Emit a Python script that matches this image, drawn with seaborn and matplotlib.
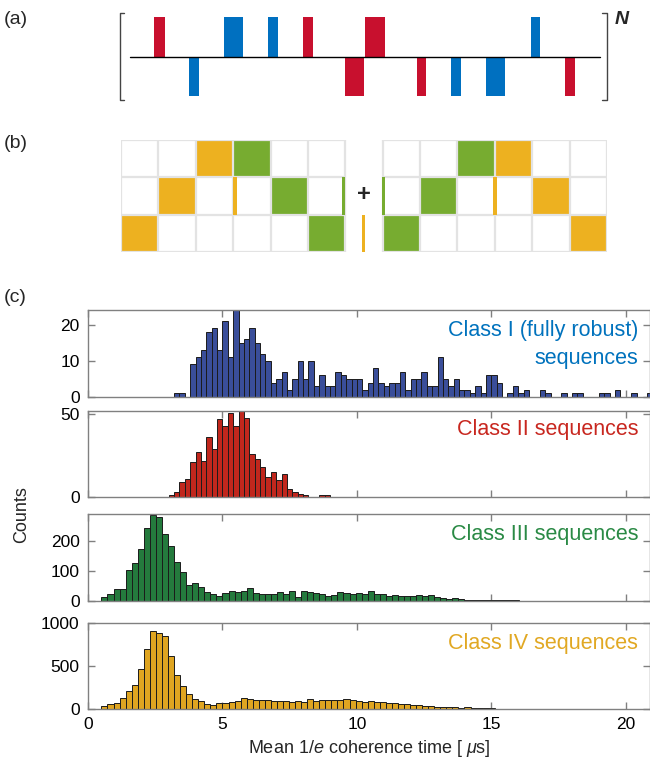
import numpy as np
import pandas as pd
import matplotlib
matplotlib.use('Agg')
import matplotlib.pyplot as plt
import seaborn as sns

# ---------------- data ----------------
# (a) pulse sequence (time units along the baseline)
pulse_t0 = [24, 59, 94, 138, 173, 214.5, 235, 286.5, 321, 356, 401, 435]
pulse_dur = [11, 10, 19, 10, 10, 19.5, 20, 9.5, 9.5, 19, 9, 10]
pulse_sign = [1, -1, 1, 1, 1, -1, 1, -1, -1, -1, 1, -1]
pulse_axis = ['r', 'b', 'b', 'b', 'r', 'r', 'r', 'r', 'b', 'b', 'b', 'r']

# (b) frame cells: (row, col, colour)
cell_row = [0, 0, 1, 1, 2, 2, 0, 0, 1, 1, 2, 2]
cell_col = [2, 3, 1, 4, 0, 5, 9, 10, 8, 11, 7, 12]
cell_kind = ['o', 'g', 'o', 'g', 'o', 'g', 'g', 'o', 'g', 'o', 'g', 'o']
strip_row = [1, 1, 2, 1, 1]
strip_col = [3.0, 5.9, 6.45, 6.98, 9.96]
strip_kind = ['o', 'g', 'o', 'g', 'o']

# (c) histograms
class1_start, class1_width = 3.2, 0.2
class1_counts = [1, 1, 0, 9, 11, 13, 18, 19, 13, 21, 11, 24, 15, 16, 19, 15, 12, 10,
                 4, 5, 7, 2, 5, 10, 5, 10, 3, 6, 3, 3, 7, 6, 5, 5, 5, 2, 4, 8, 4,
                 3, 4, 4, 7, 2, 5, 5, 7, 3, 3, 11, 5, 3, 5, 2, 2, 1, 3, 1, 6, 6, 4,
                 0, 1, 3, 1, 2, 0, 0, 2, 1, 0, 0, 1, 0, 1, 1, 0, 0, 0, 1, 1, 0, 2,
                 0, 0, 1, 0, 0, 1]
class2_start, class2_width = 3.0, 0.2
class2_counts = [1, 3, 9, 11, 21, 27, 22, 36, 29, 47, 43, 51, 43, 52, 48, 26, 23, 18,
                 12, 15, 10, 14, 5, 3, 2, 1, 0, 0, 1, 1]
class3_start, class3_width = 0.5, 0.225
class3_counts = [14, 22, 40, 39, 102, 126, 174, 243, 287, 280, 224, 183, 129, 96, 53,
                 59, 48, 29, 22, 17, 26, 32, 29, 33, 42, 28, 23, 23, 23, 29, 24, 33,
                 14, 33, 29, 27, 23, 17, 20, 30, 26, 22, 26, 24, 33, 22, 22, 18, 19,
                 17, 18, 17, 19, 16, 20, 12, 9, 8, 11, 6, 4, 3, 3, 3, 2, 2, 2, 2, 2,
                 1, 1, 1]
class4_start, class4_width = 0.5, 0.225
class4_counts = [31, 62, 74, 132, 209, 283, 465, 698, 903, 888, 853, 616, 399, 271,
                 171, 116, 93, 62, 50, 66, 74, 81, 97, 124, 120, 109, 109, 109, 89,
                 97, 97, 78, 89, 81, 116, 89, 109, 105, 109, 105, 112, 109, 97, 81,
                 97, 85, 81, 74, 70, 62, 58, 50, 46, 39, 35, 27, 23, 19, 19, 15, 23,
                 15, 12, 12, 8, 5, 4, 3, 3, 2, 2, 2, 1, 1]

class_labels = ['Class I (fully robust)\nsequences', 'Class II sequences',
                'Class III sequences', 'Class IV sequences']
y_ticks = [[0, 10, 20], [0, 50], [0, 100, 200], [0, 500, 1000]]
y_lims = [24, 52, 290, 1000]
x_ticks = [0, 5, 10, 15, 20]

# ---------------- style ----------------
sns.set_theme(style='white')
plt.rcParams['font.family'] = ['Liberation Sans', 'DejaVu Sans']
plt.rcParams['mathtext.fontset'] = 'custom'
plt.rcParams['mathtext.rm'] = 'Liberation Sans'
plt.rcParams['mathtext.it'] = 'Liberation Sans:italic'

RED = '#C8102E'
BLUE = '#0070C0'
ORANGE = '#EDB120'
GREEN = '#77AC30'
W, H = 650, 772

fig = plt.figure(figsize=(W / 100, H / 100), dpi=100)


def px_axes(l, t, r, b):
    return fig.add_axes([l / W, 1 - b / H, (r - l) / W, (b - t) / H])


# ---------------- (a) ----------------
axa = px_axes(119, 13, 609, 100)
axa.set_xlim(-11, 479)
axa.set_ylim(-1.11, 1.11)
axa.axis('off')
pc = {'r': RED, 'b': BLUE}
axa.bar(pulse_t0, pulse_sign, width=pulse_dur, align='edge',
        color=[pc[k] for k in pulse_axis], linewidth=0, zorder=2)
axa.plot([0, 470], [0, 0], color='black', lw=1.0, zorder=3)
bk = '#444444'
axa.plot([-6, -10.5, -10.5, -6], [1.1, 1.1, -1.1, -1.1], color=bk, lw=1.0, clip_on=False)
axa.plot([472, 476.5, 476.5, 472], [1.1, 1.1, -1.1, -1.1], color=bk, lw=1.0, clip_on=False)
fig.text(622 / W, 1 - 20 / H, 'N', fontsize=14, style='italic', weight='bold',
         ha='center', va='center')

# ---------------- (b) ----------------
axb = px_axes(121, 140, 607, 252)
axb.set_xlim(0, 13)
axb.set_ylim(3, 0)
axb.axis('off')
kc = {'o': ORANGE, 'g': GREEN}
axb.bar(cell_col, [1] * len(cell_col), bottom=cell_row, width=1, align='edge',
        color=[kc[k] for k in cell_kind], linewidth=0, zorder=1)
axb.bar(strip_col, [1] * len(strip_col), bottom=strip_row, width=0.09, align='edge',
        color=[kc[k] for k in strip_kind], linewidth=0, zorder=3)
gcol = '#E3E3E3'
for x0 in (0, 7):
    for c in range(7):
        axb.plot([x0 + c, x0 + c], [0, 3], color=gcol, lw=1.6, zorder=2)
    for r in range(4):
        axb.plot([x0, x0 + 6], [r, r], color=gcol, lw=1.6, zorder=2)
axb.text(6.5, 1.45, '+', fontsize=17, ha='center', va='center', weight='bold')

for lab, y in (('(a)', 20), ('(b)', 143), ('(c)', 297)):
    fig.text(4 / W, 1 - y / H, lab, fontsize=14, ha='left', va='center')

# ---------------- (c) ----------------
boxes = [(310, 397), (411, 497), (514, 601), (623, 709)]
fills = ['#3A4E9A', '#C1271D', '#247A3D', '#DFA521']
tcols = ['#0072BD', '#C8271F', '#2A8A45', '#E1A823']
text_y = [0.60, 0.79, 0.77, 0.76]
data = [(class1_start, class1_width, class1_counts),
        (class2_start, class2_width, class2_counts),
        (class3_start, class3_width, class3_counts),
        (class4_start, class4_width, class4_counts)]

for i, ((t, b), (start, width, counts)) in enumerate(zip(boxes, data)):
    ax = px_axes(88, t, 650, b)
    counts = [float(v) for v in counts]
    edges = [start + width * j for j in range(len(counts) + 1)]
    centers = [e + width / 2 for e in edges[:-1]]
    df = pd.DataFrame({'t': centers, 'n': counts})
    sns.histplot(data=df, x='t', weights='n', bins=edges, ax=ax, color=fills[i],
                 edgecolor='#1b1b1b', linewidth=0.7, alpha=1)
    ax.set_xlim(0, 20.9)
    ax.set_ylim(0, y_lims[i])
    ax.set_yticks(y_ticks[i])
    ax.set_xticks(x_ticks)
    ax.set_ylabel('')
    ax.set_xlabel('')
    if i < 3:
        ax.set_xticklabels([])
    for s in ax.spines.values():
        s.set_visible(True)
        s.set_color('#808080')
        s.set_linewidth(1.0)
    ax.tick_params(direction='in', length=5, width=1, color='#808080',
                   top=True, right=True, bottom=True, left=True,
                   labelsize=12.5, pad=6, labelcolor='black')
    ax.text(0.979, text_y[i], class_labels[i], transform=ax.transAxes,
            ha='right', va='center', multialignment='right', fontsize=15.5,
            color=tcols[i], linespacing=1.45)
    if i == 3:
        ax.set_xlabel('Mean 1/$e$ coherence time [ $\\mu$s]', fontsize=13, labelpad=4)

fig.text(22 / W, 1 - 515 / H, 'Counts', rotation=90, fontsize=13,
         ha='center', va='center')

fig.savefig('out.png', dpi=100)
